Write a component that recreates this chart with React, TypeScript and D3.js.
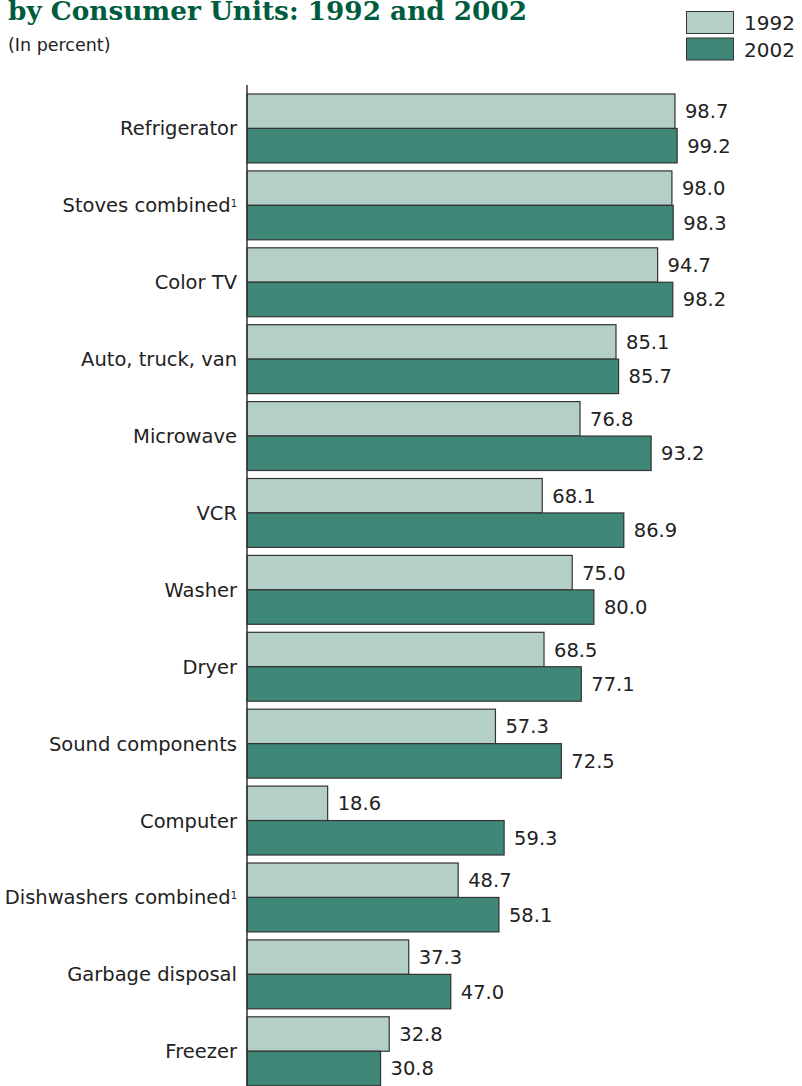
import { useEffect, useRef } from 'react';
import * as d3 from 'd3';

const categories = [
  'Refrigerator',
  'Stoves combined',
  'Color TV',
  'Auto, truck, van',
  'Microwave',
  'VCR',
  'Washer',
  'Dryer',
  'Sound components',
  'Computer',
  'Dishwashers combined',
  'Garbage disposal',
  'Freezer',
];
const footnoted = ['Stoves combined', 'Dishwashers combined'];
const years = ['1992', '2002'];
const values1992 = [98.7, 98.0, 94.7, 85.1, 76.8, 68.1, 75.0, 68.5, 57.3, 18.6, 48.7, 37.3, 32.8];
const values2002 = [99.2, 98.3, 98.2, 85.7, 93.2, 86.9, 80.0, 77.1, 72.5, 59.3, 58.1, 47.0, 30.8];

const colors: Record<string, string> = { '1992': '#b4cfc7', '2002': '#3f8877' };
const FONT = "'DejaVu Sans', sans-serif";

const App = () => {
  const svgRef = useRef<SVGSVGElement>(null);
  const width = 802;
  const height = 1086;

  useEffect(() => {
    if (!svgRef.current) return;
    const svg = d3.select(svgRef.current);
    svg.selectAll('*').remove();

    const x0 = 247;
    const step = 76.9;
    const x = d3.scaleLinear().domain([0, 100]).range([x0, x0 + 433.6]);
    const y = d3.scaleBand<string>()
      .domain(categories)
      .range([90, 90 + categories.length * step])
      .paddingInner(0.104)
      .paddingOuter(0.052);
    const yInner = d3.scaleBand<string>().domain(years).range([0, y.bandwidth()]);

    // title (top cut off in the original)
    svg.append('text')
      .attr('x', 8)
      .attr('y', 20)
      .attr('textLength', 519)
      .attr('lengthAdjust', 'spacingAndGlyphs')
      .style('font-family', "'DejaVu Serif', serif")
      .style('font-weight', 'bold')
      .style('font-size', '26px')
      .style('fill', '#005c3f')
      .text('by Consumer Units: 1992 and 2002');

    svg.append('text')
      .attr('x', 8)
      .attr('y', 51)
      .style('font-family', FONT)
      .style('font-size', '17.5px')
      .style('fill', '#222')
      .text('(In percent)');

    // legend
    const legend = svg.append('g').attr('transform', 'translate(686,11)');
    years.forEach((yr, i) => {
      legend.append('rect')
        .attr('x', 0.5)
        .attr('y', i * 26.5 + 0.5)
        .attr('width', 47)
        .attr('height', 22)
        .attr('fill', colors[yr])
        .attr('stroke', '#333')
        .attr('stroke-width', 1);
      legend.append('text')
        .attr('x', 58)
        .attr('y', i * 26.5 + 19)
        .style('font-family', FONT)
        .style('font-size', '20px')
        .style('fill', '#222')
        .text(yr);
    });

    const rows = categories.map((c, i) => ({ cat: c, v: { '1992': values1992[i], '2002': values2002[i] } as Record<string, number> }));

    const groups = svg.selectAll('.row')
      .data(rows)
      .enter()
      .append('g')
      .attr('class', 'row')
      .attr('transform', d => `translate(0,${y(d.cat)})`);

    years.forEach(yr => {
      groups.append('rect')
        .attr('x', x(0))
        .attr('y', (yInner(yr) || 0))
        .attr('width', d => x(d.v[yr]) - x(0))
        .attr('height', yInner.bandwidth())
        .attr('fill', colors[yr])
        .attr('stroke', '#333')
        .attr('stroke-width', 1.2);

      groups.append('text')
        .attr('x', d => x(d.v[yr]) + 10)
        .attr('y', (yInner(yr) || 0) + yInner.bandwidth() / 2)
        .attr('dy', '0.36em')
        .style('font-family', FONT)
        .style('font-size', '19.5px')
        .style('fill', '#222')
        .text(d => d.v[yr].toFixed(1));
    });

    // category labels
    const labels = groups.append('text')
      .attr('x', 237)
      .attr('y', y.bandwidth() / 2)
      .attr('dy', '0.36em')
      .attr('text-anchor', 'end')
      .style('font-family', FONT)
      .style('font-size', '19.5px')
      .style('fill', '#222');
    labels.append('tspan').text(d => d.cat);
    labels.filter(d => footnoted.includes(d.cat))
      .append('tspan')
      .attr('dy', '-0.55em')
      .style('font-size', '10px')
      .text('1');

    // axis line
    svg.append('line')
      .attr('x1', x(0))
      .attr('x2', x(0))
      .attr('y1', 85)
      .attr('y2', height)
      .attr('stroke', '#333')
      .attr('stroke-width', 1.5);
  }, []);

  return (
    <div style={{ position: 'absolute', left: 0, top: 0, background: '#fff' }}>
      <svg ref={svgRef} width={width} height={height} style={{ display: 'block' }}></svg>
    </div>
  );
};

export default App;
